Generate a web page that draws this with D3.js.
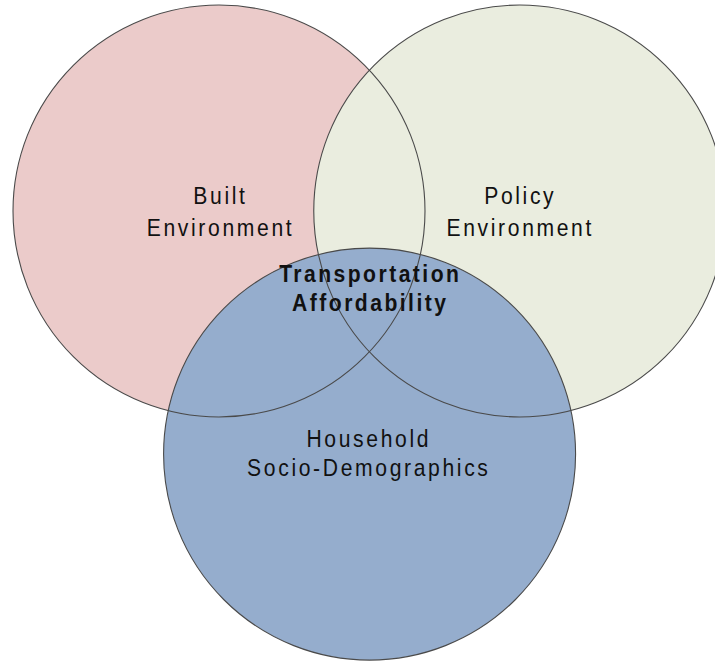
<!DOCTYPE html>
<html>
<head>
<meta charset="utf-8">
<script src="https://cdn.jsdelivr.net/npm/d3@7"></script>
<style>
  body { margin: 0; background: #fff; }
  text { font-family: "Liberation Sans", Arial, Helvetica, sans-serif; fill: #111; }
</style>
</head>
<body>
<div id="venn"></div>
<script>
// sets of the diagram, centres in units of one circle radius
const setNames = ["Built Environment", "Policy Environment", "Household Socio-Demographics"];
const setLines = [["Built", "Environment"], ["Policy", "Environment"], ["Household", "Socio-Demographics"]];
const centerX = [0, 1.46, 0.731];
const centerY = [0, 0, 1.18];
const fills = ["#ebcbca", "#eaeddf", "#95adcd"];
// where each set label sits (units, first baseline)
const labelX = [0, 1.455, 0.72];
const labelY = [-0.034, -0.034, 1.144];
const labelGap = [32, 32, 29.5];
const centreLines = ["Transportation", "Affordability"];

const width = 715, height = 661;
const r = 206;

const x = d3.scaleLinear().domain([0, 1]).range([219, 219 + r]);
const y = d3.scaleLinear().domain([0, 1]).range([211, 211 + r]);

const svg = d3.select("#venn")
  .append("svg")
  .attr("width", width)
  .attr("height", height);

const sets = setNames.map((name, i) => ({
  name: name, cx: centerX[i], cy: centerY[i], fill: fills[i],
  lines: setLines[i], lx: labelX[i], ly: labelY[i], gap: labelGap[i]
}));

// fills first
svg.selectAll("circle.fill")
  .data(sets)
  .enter()
  .append("circle")
    .attr("class", "fill")
    .attr("cx", d => x(d.cx))
    .attr("cy", d => y(d.cy))
    .attr("r", r)
    .attr("fill", d => d.fill);

// outlines on top so every arc shows through
svg.selectAll("circle.edge")
  .data(sets)
  .enter()
  .append("circle")
    .attr("class", "edge")
    .attr("cx", d => x(d.cx))
    .attr("cy", d => y(d.cy))
    .attr("r", r)
    .attr("fill", "none")
    .attr("stroke", "#4a4a4a")
    .attr("stroke-width", 1.1);

// narrow, widely spaced lettering like the original
function label(lines, cx, cy, gap, bold) {
  const t = svg.append("text")
    .attr("text-anchor", "middle")
    .attr("transform", `translate(${cx + 1.5},${cy}) scale(0.88,1)`)
    .style("font-size", "24px")
    .style("font-weight", bold ? "bold" : "normal")
    .style("letter-spacing", bold ? "2.8px" : "3px");
  lines.forEach((ln, j) => {
    t.append("tspan")
      .attr("x", 0)
      .attr("y", j * gap)
      .text(ln);
  });
}

sets.forEach(d => label(d.lines, x(d.lx), y(d.ly), d.gap, false));
label(centreLines, x(0.727), y(0.347), 29, true);
</script>
</body>
</html>
